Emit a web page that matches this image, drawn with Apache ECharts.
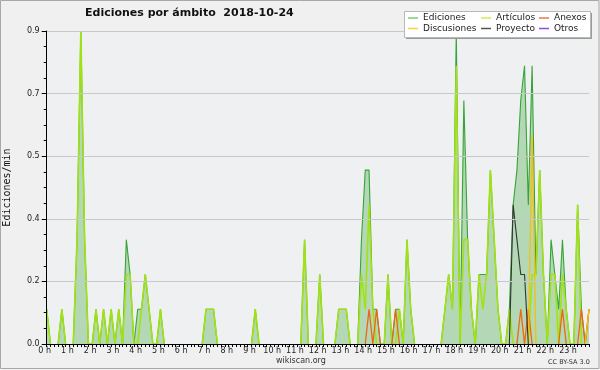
<!DOCTYPE html>
<html>
<head>
<meta charset="utf-8">
<script src="https://cdn.jsdelivr.net/npm/echarts@6/dist/echarts.min.js"></script>
<style>html,body{margin:0;padding:0;background:#f0f0f0}#c{width:600px;height:370px}</style>
</head>
<body>
<div id="c"></div>
<script>
// 10-minute bins, 00:00 .. 23:50
const categories = [];
for (let h = 0; h < 24; h++) for (let m = 0; m < 60; m += 10) categories.push(String(h).padStart(2,'0') + ':' + String(m).padStart(2,'0'));
const hourLabels = ['0 h','1 h','2 h','3 h','4 h','5 h','6 h','7 h','8 h','9 h','10 h','11 h','12 h','13 h','14 h','15 h','16 h','17 h','18 h','19 h','20 h','21 h','22 h','23 h'];
const yTickLabels = ['0.0','0.2','0.4','0.5','0.7','0.9'];

const ediciones = [
 0.1,0,0,0,0.1,0,0,0,0.3,0.9,0.3,0,
 0,0.1,0,0.1,0,0.1,0,0.1,0,0.3,0.2,0,
 0.1,0.1,0.2,0.1,0,0,0.1,0,0,0,0,0,
 0,0,0,0,0,0,0.1,0.1,0.1,0,0,0,
 0,0,0,0,0,0,0,0.1,0,0,0,0,
 0,0,0,0,0,0,0,0,0.3,0,0,0,
 0.2,0,0,0,0,0.1,0.1,0.1,0,0,0,0.3,
 0.5,0.5,0.1,0.1,0,0,0.2,0,0.1,0.1,0,0.3,
 0.1,0,0,0,0,0,0,0,0,0.1,0.2,0.1,
 0.9,0,0.7,0.3,0.1,0,0.2,0.2,0.2,0.5,0.3,0.1,
 0,0,0.1,0.4,0.5,0.7,0.8,0.4,0.8,0.2,0.5,0.2,
 0,0.3,0.2,0.1,0.3,0.1,0,0,0.4,0.1,0,0.1
];
const articulos = [
 0.1,0,0,0,0.1,0,0,0,0.3,0.9,0.3,0,
 0,0.1,0,0.1,0,0.1,0,0.1,0,0.2,0.2,0,
 0,0.1,0.2,0.1,0,0,0.1,0,0,0,0,0,
 0,0,0,0,0,0,0.1,0.1,0.1,0,0,0,
 0,0,0,0,0,0,0,0.1,0,0,0,0,
 0,0,0,0,0,0,0,0,0.3,0,0,0,
 0.2,0,0,0,0,0.1,0.1,0.1,0,0,0,0.2,
 0.1,0.4,0.1,0,0,0,0.2,0,0,0.1,0,0.3,
 0.1,0,0,0,0,0,0,0,0,0.1,0.2,0.1,
 0.8,0,0.3,0.3,0.1,0,0.2,0.1,0.2,0.5,0.3,0.1,
 0,0,0.1,0,0,0,0,0,0.2,0.2,0.5,0.2,
 0,0.2,0.2,0,0.2,0.1,0,0,0.4,0,0,0
];
const anexos = [
 0,0,0,0,0,0,0,0,0,0,0,0,
 0,0,0,0,0,0,0,0,0,0,0,0,
 0,0,0,0,0,0,0,0,0,0,0,0,
 0,0,0,0,0,0,0,0,0,0,0,0,
 0,0,0,0,0,0,0,0,0,0,0,0,
 0,0,0,0,0,0,0,0,0,0,0,0,
 0,0,0,0,0,0,0,0,0,0,0,0,
 0,0.1,0,0.1,0,0,0,0,0.1,0,0,0,
 0,0,0,0,0,0,0,0,0,0,0,0,
 0,0,0,0,0,0,0,0,0,0,0,0,
 0,0,0,0,0,0.1,0,0.1,0,0,0,0,
 0,0,0,0,0.1,0,0,0,0,0.1,0,0.1
];
const discusiones = [
 0,0,0,0,0,0,0,0,0,0,0,0,
 0,0,0,0,0,0,0,0,0,0,0,0,
 0,0,0,0,0,0,0,0,0,0,0,0,
 0,0,0,0,0,0,0,0,0,0,0,0,
 0,0,0,0,0,0,0,0,0,0,0,0,
 0,0,0,0,0,0,0,0,0,0,0,0,
 0,0,0,0,0,0,0,0,0,0,0,0,
 0,0,0,0,0,0,0,0,0,0,0,0,
 0,0,0,0,0,0,0,0,0,0,0,0,
 0,0,0,0,0,0,0,0,0,0,0,0,
 0,0,0,0,0,0,0,0,0.6,0,0,0,
 0,0,0,0,0,0,0,0,0,0,0,0.1
];
const proyecto = [
 0,0,0,0,0,0,0,0,0,0,0,0,
 0,0,0,0,0,0,0,0,0,0,0,0,
 0,0,0,0,0,0,0,0,0,0,0,0,
 0,0,0,0,0,0,0,0,0,0,0,0,
 0,0,0,0,0,0,0,0,0,0,0,0,
 0,0,0,0,0,0,0,0,0,0,0,0,
 0,0,0,0,0,0,0,0,0,0,0,0,
 0,0,0,0,0,0,0,0,0,0,0,0,
 0,0,0,0,0,0,0,0,0,0,0,0,
 0,0,0,0,0,0,0,0,0,0,0,0,
 0,0,0,0.4,0.3,0.2,0.2,0,0,0,0,0,
 0,0,0,0,0,0,0,0,0,0,0,0
];
const otros = [
 0,0,0,0,0,0,0,0,0,0,0,0,
 0,0,0,0,0,0,0,0,0,0,0,0,
 0,0,0,0,0,0,0,0,0,0,0,0,
 0,0,0,0,0,0,0,0,0,0,0,0,
 0,0,0,0,0,0,0,0,0,0,0,0,
 0,0,0,0,0,0,0,0,0,0,0,0,
 0,0,0,0,0,0,0,0,0,0,0,0,
 0,0,0,0,0,0,0,0,0,0,0,0,
 0,0,0,0,0,0,0,0,0,0,0,0,
 0,0,0,0,0,0,0,0,0,0,0,0,
 0,0,0,0,0,0,0,0,0,0,0,0,
 0,0,0,0,0,0,0,0,0,0,0,0
];

// hide runs of zero (the reference does not draw along the baseline)
function trim(arr) {
  return arr.map((v, i) => (v === 0 && !(arr[i-1] > 0) && !(arr[i+1] > 0)) ? null : v);
}

const FONT = 'DejaVu Sans';
const seriesDefs = [
  {name:'Ediciones', data:ediciones, color:'#36a436', legend:'#77cc77', width:1.1, area:true},
  {name:'Artículos', data:articulos, color:'#a2e214', legend:'#ccee55', width:1.6},
  {name:'Anexos', data:anexos, color:'#ee6611', legend:'#ee7744', width:1.3},
  {name:'Discusiones', data:discusiones, color:'#f2c010', legend:'#ffcc44', width:1.3},
  {name:'Proyecto', data:proyecto, color:'#333333', legend:'#555555', width:1.1},
  {name:'Otros', data:otros, color:'#9933ee', legend:'#9944ee', width:1.1}
];
const legendPos = [[408,13.5],[481,13.5],[539,13.5],[408,24],[481,24],[539,24]];

const chart = echarts.init(document.getElementById('c'), null, {renderer:'canvas'});
chart.setOption({
  backgroundColor:'#f0f0f0',
  animation:false,
  title:{text:'Ediciones por ámbito  2018-10-24', left:85, top:8, padding:0,
    textStyle:{fontFamily:FONT, fontSize:11, fontWeight:'bold', color:'#111'}},
  grid:{left:46.7, right:11, top:31, bottom:26, show:true, backgroundColor:'#eef0f2', borderWidth:0,
    outerBoundsMode:'none', containLabel:false},
  xAxis:{type:'category', boundaryGap:false, data:categories, z:10,
    axisLine:{show:true, lineStyle:{color:'#000', width:1}},
    axisTick:{show:true, interval:0, length:3, lineStyle:{color:'#000'}},
    axisLabel:{interval:5, margin:3, fontFamily:FONT, fontSize:8, color:'#222', padding:[0,4,0,0],
      formatter:(v, i) => hourLabels[Math.round(i/6)]},
    splitLine:{show:false}},
  yAxis:{type:'value', min:0, max:0.9, interval:0.18, z:10,
    name:'Ediciones/min', nameLocation:'middle', nameGap:34,
    nameTextStyle:{fontFamily:'DejaVu Sans Mono', fontSize:10, color:'#111'},
    axisLine:{show:true, lineStyle:{color:'#000', width:1}},
    axisTick:{show:true, length:5, lineStyle:{color:'#000'}},
    minorTick:{show:true, splitNumber:4, length:3, lineStyle:{color:'#000'}},
    splitLine:{show:true, lineStyle:{color:'#c8c8c8', width:1}},
    axisLabel:{margin:7, fontFamily:FONT, fontSize:8, color:'#222',
      formatter:(v) => yTickLabels[Math.round(v/0.18)]}},
  legend: seriesDefs.map((s, k) => ({
    data:[{name:s.name, itemStyle:{color:s.legend}}],
    left:legendPos[k][0], top:legendPos[k][1], padding:0, z:60,
    icon:'rect', itemWidth:10, itemHeight:1.5, selectedMode:false,
    textStyle:{fontFamily:FONT, fontSize:9, color:'#222'}
  })),
  graphic:[
    {type:'rect', z:50, shape:{x:406, y:13, width:186, height:26}, style:{fill:'#9a9a9a'}},
    {type:'rect', z:51, shape:{x:404.5, y:11.5, width:186, height:26}, style:{fill:'#ffffff', stroke:'#b8b8b8', lineWidth:1}},
    {type:'text', z:50, x:276, y:357, style:{text:'wikiscan.org', fontFamily:FONT, fontSize:8, fill:'#333'}},
    {type:'text', z:50, x:548, y:359, style:{text:'CC BY-SA 3.0', fontFamily:FONT, fontSize:6.5, fill:'#333'}},
    {type:'rect', z:70, shape:{x:0.5, y:0.5, width:598.5, height:368}, style:{fill:null, stroke:'#a8a8a8', lineWidth:1}}
  ],
  series: seriesDefs.map((s, k) => ({
    name:s.name, type:'line', data:trim(s.data), symbol:'none', z:2+k,
    lineStyle:{color:s.color, width:s.width},
    itemStyle:{color:s.color},
    areaStyle: s.area ? {color:'rgba(120,190,120,0.7)'} : undefined
  }))
});
</script>
</body>
</html>
